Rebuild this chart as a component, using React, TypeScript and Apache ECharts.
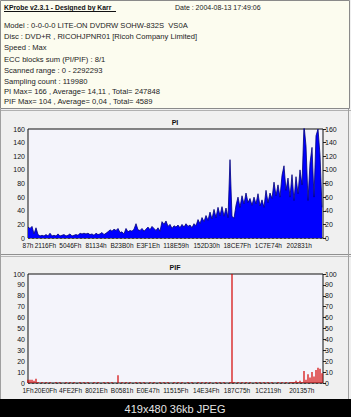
import React, { useEffect, useRef } from 'react';
import * as echarts from 'echarts';

// ---- data ----
const SCAN_END = 2292293; // PI axis end (LBA)
const PIF_AXIS_END = 2265000; // PIF axis end (LBA)
const PI_SAMPLE_STEP = 15541;
const PIF_SAMPLE_STEP = 15356;

const PI_TICK_LABELS = ['87h', '2116Fh', '5046Fh', '81134h', 'B23B0h', 'E3F1Eh', '118E59h', '152D30h', '18CE7Fh', '1C7E74h', '202831h'];
const PIF_TICK_LABELS = ['1Fh', '20E0Fh', '4FE2Fh', '8021Eh', 'B0581h', 'E0E47h', '11515Fh', '14E34Fh', '187C75h', '1C2119h', '201357h'];

const PI_VALUES = [
  16, 14, 17, 6, 15, 5, 3, 4, 3, 5,
  3, 7, 3, 4, 3, 6, 3, 4, 5, 3,
  4, 6, 3, 4, 5, 4, 7, 6, 7, 6,
  7, 5, 6, 4, 7, 5, 6, 8, 5, 7,
  9, 12, 10, 13, 11, 14, 8, 9, 6, 14,
  9, 11, 10, 13, 21, 12, 11, 14, 10, 13,
  16, 12, 17, 14, 11, 15, 10, 24, 20, 25,
  17, 20, 14, 18, 16, 19, 15, 20, 16, 21,
  17, 19, 15, 21, 18, 27, 21, 30, 24, 33,
  26, 38, 28, 42, 30, 45, 33, 46, 32, 44,
  30, 115, 32, 29, 48, 60, 45, 62, 50, 66,
  52, 58, 48, 60, 50, 65, 47, 56, 45, 70,
  52, 66, 58, 82, 62, 78, 60, 92, 106, 70,
  88, 60, 93, 55, 90, 65, 100, 78, 166, 135,
  55, 110, 133, 60, 150, 160, 122, 45,
];

const PIF_VALUES = [
  3, 3, 3, 2, 4, 1, 0, 1, 0, 1,
  0, 1, 0, 0, 1, 0, 1, 0, 0, 1,
  0, 1, 0, 1, 0, 0, 1, 0, 1, 0,
  1, 0, 0, 1, 0, 1, 0, 0, 1, 0,
  1, 0, 1, 0, 0, 7, 0, 1, 0, 1,
  0, 1, 0, 0, 1, 0, 1, 0, 1, 0,
  0, 1, 0, 1, 0, 0, 1, 0, 1, 0,
  1, 0, 0, 1, 0, 1, 0, 1, 0, 0,
  1, 0, 1, 0, 0, 1, 0, 1, 0, 1,
  0, 1, 0, 0, 1, 0, 1, 0, 1, 0,
  0, 1, 104, 1, 0, 1, 0, 1, 0, 1,
  0, 1, 0, 0, 1, 0, 1, 0, 1, 0,
  1, 0, 1, 0, 0, 1, 0, 1, 0, 1,
  0, 1, 1, 1, 2, 1, 2, 1, 11, 3,
  8, 5, 10, 6, 12, 14, 13, 9,
];

const TITLE_TEXT = 'KProbe v2.3.1 - Designed by Karr';
const DATE_TEXT = 'Date : 2004-08-13 17:49:06';
const HEADER_LINES = [
  'Model : 0-0-0-0 LITE-ON DVDRW SOHW-832S  VS0A',
  'Disc : DVD+R , RICOHJPNR01 [Ricoh Company Limited]',
  'Speed : Max',
  'ECC blocks sum (PI/PIF) : 8/1',
  'Scanned range : 0 - 2292293',
  'Sampling count : 119980',
  'PI Max= 166 , Average= 14,11 , Total= 247848',
  'PIF Max= 104 , Average= 0,04 , Total= 4589',
];
const CAPTION = '419x480 36kb JPEG';

const FONT = '"Liberation Sans", Arial, sans-serif';

function hexLabelAxis(labels: string[], end: number, gridIndex: number) {
  const vals = labels.map((h) => parseInt(h, 16));
  const map: Record<number, string> = {};
  vals.forEach((v, i) => (map[v] = labels[i]));
  return {
    gridIndex,
    type: 'value',
    min: 0,
    max: end,
    axisLine: { show: false },
    axisTick: { show: false },
    splitLine: { show: false },
    axisLabel: {
      customValues: vals,
      formatter: (v: number) => map[Math.round(v)] ?? '',
      fontSize: 6.5,
      fontFamily: FONT,
      color: '#111',
      margin: 4,
      hideOverlap: false,
    },
  };
}

function yAxes(max: number, interval: number, gridIndex: number) {
  const common = {
    gridIndex,
    type: 'value',
    min: 0,
    max,
    interval,
    axisLine: { show: false },
  };
  return [
    {
      ...common,
      position: 'left',
      axisTick: { show: false },
      splitLine: { show: true, lineStyle: { type: [2, 2], color: '#777', width: 1 } },
      axisLabel: { fontSize: 7, fontFamily: FONT, color: '#111', margin: 3 },
    },
    {
      ...common,
      position: 'right',
      axisTick: { show: true, length: 3, lineStyle: { color: '#222' } },
      splitLine: { show: false },
      axisLabel: { fontSize: 7, fontFamily: FONT, color: '#111', margin: 2 },
    },
  ];
}

export default function App() {
  const ref = useRef<HTMLDivElement>(null);
  useEffect(() => {
    if (!ref.current) return;
    const chart = echarts.init(ref.current, null, { renderer: 'svg' });
    const piData = PI_VALUES.map((v, i) => [i * PI_SAMPLE_STEP, v]);
    const pifData = PIF_VALUES.map((v, i) => [i * PIF_SAMPLE_STEP, v]);

    const headerTexts = HEADER_LINES.map((t, i) => ({
      type: 'text',
      z: 50,
      style: {
        text: t,
        x: 4,
        y: [25, 36, 47, 59, 70, 81, 91, 101][i],
        fontSize: 7.6,
        fontFamily: FONT,
        fill: '#222',
        verticalAlign: 'middle',
      },
    }));

    chart.setOption({
      animation: false,
      backgroundColor: '#000',
      grid: [
        { left: 28, top: 129, width: 295, height: 109, show: true, backgroundColor: '#f4f4fb', borderColor: '#111', borderWidth: 1, z: 1 },
        { left: 28, top: 274, width: 295, height: 109, show: true, backgroundColor: '#f4f4fb', borderColor: '#111', borderWidth: 1, z: 1 },
      ],
      xAxis: [hexLabelAxis(PI_TICK_LABELS, SCAN_END, 0), hexLabelAxis(PIF_TICK_LABELS, PIF_AXIS_END, 1)],
      yAxis: [...yAxes(160, 20, 0), ...yAxes(100, 10, 1)],
      series: [
        {
          type: 'line',
          xAxisIndex: 0,
          yAxisIndex: 0,
          data: piData,
          symbol: 'none',
          clip: true,
          lineStyle: { color: '#00007a', width: 0.8 },
          areaStyle: { color: '#0000ff', opacity: 1 },
          z: 3,
        },
        {
          type: 'bar',
          xAxisIndex: 1,
          yAxisIndex: 2,
          data: pifData,
          barWidth: 1.2,
          clip: true,
          itemStyle: { color: '#d40000' },
          z: 3,
        },
      ],
      graphic: [
        // panels background
        { type: 'rect', z: -10, shape: { x: 0, y: 0, width: 351, height: 399 }, style: { fill: '#f0f0f0' } },
        { type: 'rect', z: -9, shape: { x: 0.5, y: 0.5, width: 349, height: 108 }, style: { fill: '#fcfcef', stroke: '#8a8a8a', lineWidth: 1 } },
        { type: 'line', z: -9, shape: { x1: 0, y1: 110.5, x2: 351, y2: 110.5 }, style: { stroke: '#b0b0b0', lineWidth: 1 } },
        { type: 'line', z: -9, shape: { x1: 0, y1: 254.5, x2: 351, y2: 254.5 }, style: { stroke: '#909090', lineWidth: 1 } },
        { type: 'line', z: -9, shape: { x1: 0, y1: 256.5, x2: 351, y2: 256.5 }, style: { stroke: '#b8b8b8', lineWidth: 1 } },
        { type: 'line', z: -9, shape: { x1: 348.5, y1: 109, x2: 348.5, y2: 399 }, style: { stroke: '#a0a0a0', lineWidth: 1 } },
        { type: 'line', z: -9, shape: { x1: 0.5, y1: 109, x2: 0.5, y2: 399 }, style: { stroke: '#a0a0a0', lineWidth: 1 } },
        // header
        {
          type: 'text', z: 50,
          style: { text: TITLE_TEXT, x: 4, y: 7, fontSize: 6.8, fontWeight: 'bold', fontFamily: FONT, fill: '#111', verticalAlign: 'middle' },
        },
        { type: 'line', z: 50, shape: { x1: 4, y1: 11.5, x2: 116, y2: 11.5 }, style: { stroke: '#111', lineWidth: 1 } },
        {
          type: 'text', z: 50,
          style: { text: DATE_TEXT, x: 175, y: 7, fontSize: 7, fontFamily: FONT, fill: '#222', verticalAlign: 'middle' },
        },
        ...headerTexts,
        // chart titles
        { type: 'text', z: 50, style: { text: 'PI', x: 175, y: 122, fontSize: 7, fontWeight: 'bold', fontFamily: FONT, fill: '#111', align: 'center', verticalAlign: 'middle' } },
        { type: 'text', z: 50, style: { text: 'PIF', x: 175, y: 267, fontSize: 7, fontWeight: 'bold', fontFamily: FONT, fill: '#111', align: 'center', verticalAlign: 'middle' } },
        // caption
        { type: 'text', z: 50, style: { text: CAPTION, x: 175, y: 408.5, fontSize: 11, fontFamily: FONT, fill: '#e6e6e6', align: 'center', verticalAlign: 'middle' } },
      ],
    });
    return () => chart.dispose();
  }, []);
  return <div ref={ref} style={{ position: 'absolute', left: 0, top: 0, width: 351, height: 417 }} />;
}
